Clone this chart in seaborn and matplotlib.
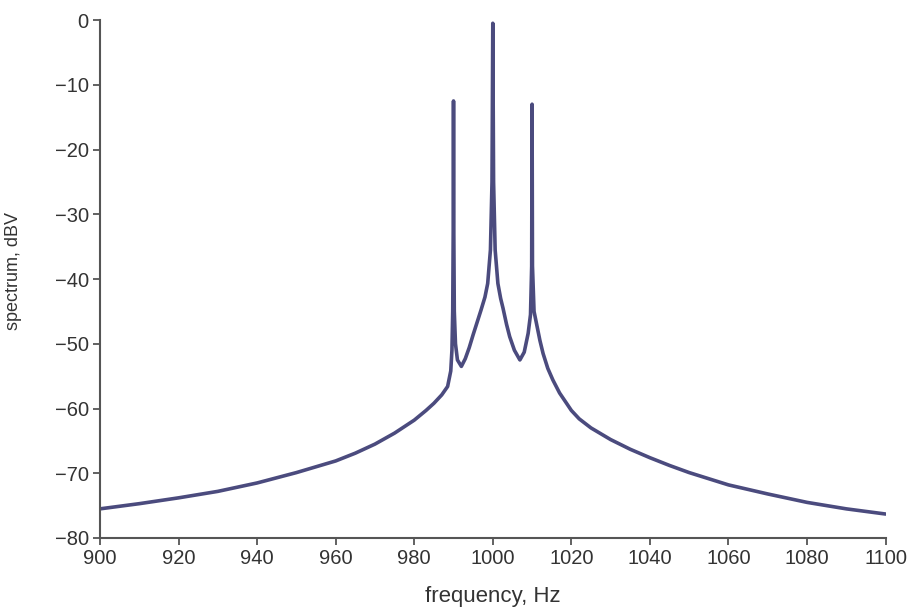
import pandas as pd
import seaborn as sns
import matplotlib.pyplot as plt

# spectrum (Hz, dBV)
freq = [
    900, 910, 920, 930, 940, 950, 960, 965, 970, 975,
    980, 983, 985, 987, 988.5, 989.3, 989.6, 989.8, 989.95, 990,
    990.05, 990.2, 990.5, 991, 992, 993, 994, 995, 996, 997,
    998, 998.7, 999.4, 999.8, 1000, 1000.2, 1000.6, 1001.3, 1002, 1002.6,
    1003.5, 1004.3, 1005.5, 1006.9, 1008, 1009, 1009.6, 1009.9, 1010, 1010.1,
    1010.5, 1011.1, 1012, 1012.8, 1014, 1015.3, 1017, 1020, 1022, 1025,
    1030, 1035, 1040, 1045, 1050, 1060, 1070, 1080, 1090, 1100,
]
spectrum = [
    -75.5, -74.7, -73.8, -72.8, -71.5, -69.9, -68.1, -66.9, -65.5, -63.8,
    -61.8, -60.3, -59.2, -57.9, -56.6, -54.2, -51.0, -45.0, -30.0, -12.5,
    -30.0, -45.0, -50.0, -52.5, -53.5, -52.3, -50.6, -48.6, -46.7, -44.8,
    -42.8, -40.7, -35.5, -25.0, -0.5, -25.0, -35.5, -40.7, -43.0, -44.5,
    -47.0, -48.9, -51.0, -52.5, -51.3, -48.4, -45.5, -38.0, -13.0, -38.0,
    -45.0, -46.8, -49.5, -51.5, -53.8, -55.6, -57.6, -60.3, -61.6, -63.0,
    -64.8, -66.3, -67.6, -68.8, -69.9, -71.8, -73.2, -74.5, -75.5, -76.3,
]

xticks = [900, 920, 940, 960, 980, 1000, 1020, 1040, 1060, 1080, 1100]
yticks = [0, -10, -20, -30, -40, -50, -60, -70, -80]

df = pd.DataFrame({"frequency": freq, "spectrum": spectrum})

sns.set_style("ticks")
plt.rcParams["font.family"] = ["Liberation Sans", "DejaVu Sans"]

fig = plt.figure(figsize=(9.13, 6.09), dpi=100)
ax = fig.add_axes([0.1095, 0.1166, 0.8605, 0.8505])

sns.lineplot(data=df, x="frequency", y="spectrum", ax=ax,
             color="#4b4b7e", linewidth=2.6, sort=False)

ax.set_xlim(900, 1100)
ax.set_ylim(-80, 0)
ax.set_xticks(xticks)
ax.set_yticks(yticks)
ax.tick_params(axis="both", labelsize=14.5, length=5, width=1.3,
               color="#555555", labelcolor="#333333", pad=3)
for side in ["left", "bottom"]:
    ax.spines[side].set_color("#555555")
    ax.spines[side].set_linewidth(1.5)
sns.despine(ax=ax)

ax.set_xlabel("frequency, Hz", fontsize=16, color="#333333")
ax.set_ylabel("spectrum, dBV", fontsize=13, color="#333333")
ax.xaxis.set_label_coords(0.5, -0.093)
ax.yaxis.set_label_coords(-0.099, 0.515)

fig.savefig("out.png", dpi=100, facecolor="white")
